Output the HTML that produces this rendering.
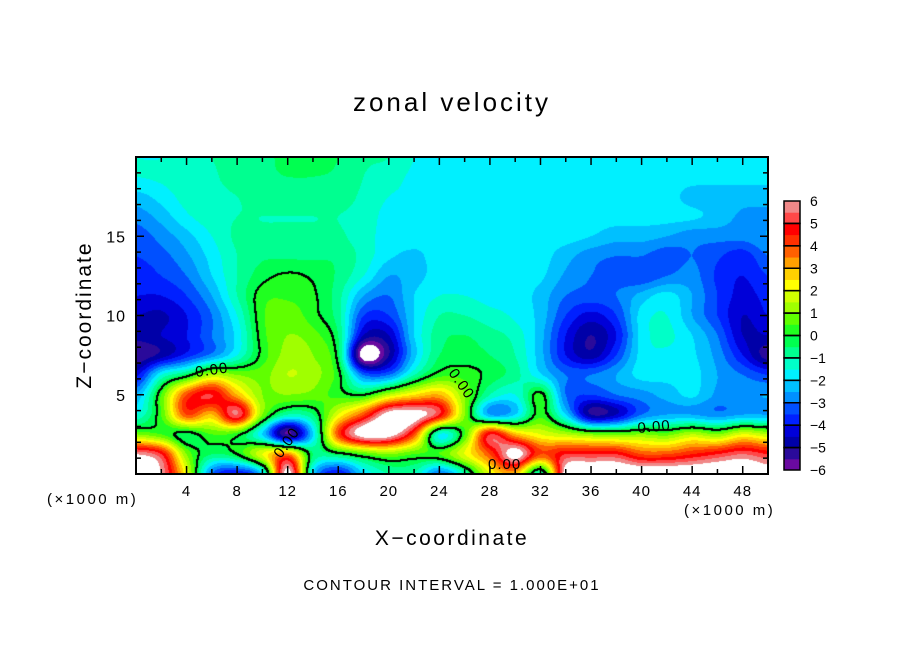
<!DOCTYPE html>
<html><head><meta charset="utf-8"><style>
body{margin:0;background:#fff;width:904px;height:654px;overflow:hidden;position:relative;font-family:"Liberation Sans",sans-serif}
.t{position:absolute;white-space:nowrap;color:#000}
</style></head><body>
<div class="t" style="left:0;width:904px;text-align:center;top:87px;font-size:26px;letter-spacing:3px">zonal velocity</div>
<div class="t" style="left:85px;top:315px;font-size:21px;letter-spacing:2px;transform:translate(-50%,-50%) rotate(-90deg)">Z−coordinate</div>
<div class="t" style="left:0;width:904px;text-align:center;top:527px;font-size:21px;letter-spacing:2.5px">X−coordinate</div>
<div class="t" style="left:47px;top:491px;font-size:15px;letter-spacing:2.5px">(×1000 m)</div>
<div class="t" style="left:684px;top:502px;font-size:15px;letter-spacing:2.5px">(×1000 m)</div>
<div class="t" style="left:0;width:904px;text-align:center;top:577px;font-size:15px;letter-spacing:2px">CONTOUR INTERVAL = 1.000E+01</div>
<canvas id="cv" width="632" height="317" style="position:absolute;left:136px;top:157px"></canvas>
<svg id="sv" width="904" height="654" style="position:absolute;left:0;top:0"></svg>
<script>
const xs=[0,2,4,6,8,10,12,14,16,18,20,22,24,26,28,30,32,34,36,38,40,42,44,46,48,50];
const zs=[20,18.75,17.5,16.25,15,13.75,12.5,11.25,10,8.75,7.5,6.25,5,3.75,2.5,1.25,0];
const field=[
[-1.5,-1.5,-1.3,-1,-0.8,-0.6,-0.4,-0.3,-0.5,-0.9,-1,-1.5,-1.8,-1.8,-1.8,-1.8,-1.8,-1.8,-1.8,-1.8,-1.8,-1.8,-1.8,-1.8,-1.7,-1.7],
[-1.5,-1.4,-1.2,-1.1,-0.7,-0.6,-0.5,-0.5,-0.6,-1,-1.3,-1.6,-1.8,-1.8,-1.8,-1.8,-1.8,-1.8,-1.8,-1.8,-1.8,-1.8,-1.8,-1.8,-1.8,-1.8],
[-2.2,-1.8,-1.3,-1.2,-1,-0.8,-0.8,-0.8,-0.8,-1.1,-1.5,-1.6,-1.8,-1.8,-1.8,-1.8,-1.8,-1.8,-1.8,-1.8,-1.8,-1.8,-2.2,-2.3,-2.3,-2.3],
[-2.8,-2.3,-1.6,-1.2,-1,-1,-1,-1,-1,-1.2,-1.7,-1.8,-1.8,-1.8,-1.8,-1.8,-1.8,-1.8,-1.8,-1.8,-1.8,-1.8,-1.9,-2.2,-2.6,-2.6],
[-3.3,-2.8,-2.2,-1.5,-0.9,-0.9,-0.9,-0.9,-0.9,-1.3,-1.7,-1.8,-1.8,-1.8,-1.8,-1.8,-1.8,-1.8,-2,-2.3,-2.3,-2.5,-2.8,-2.8,-2.8,-2.5],
[-3.5,-3.2,-2.6,-1.8,-1,-0.6,-0.6,-0.6,-0.6,-1.2,-1.9,-2.1,-1.8,-1.8,-1.8,-1.8,-1.8,-2.3,-2.8,-3,-3,-3.3,-3,-3.4,-3.8,-3],
[-3.8,-3.5,-3,-2,-1,-0.2,0.1,-0.1,-0.6,-1.5,-2.5,-2.2,-1.8,-1.8,-1.8,-1.8,-1.9,-2.6,-3,-3.2,-3.4,-3,-2.8,-3.6,-4,-3.5],
[-4,-4,-3.5,-2.5,-1,0.3,0.4,0.1,-0.8,-2.5,-3,-2,-1.5,-1.5,-1.7,-1.7,-2.2,-3,-3.2,-3,-2.3,-1.8,-2.5,-3.5,-4.2,-3.8],
[-4.5,-4.6,-4,-3,-1.5,0.4,0.8,0.2,-0.8,-3.5,-3.5,-2,-1,-1,-1.3,-1.6,-2.2,-3.5,-4.2,-3.5,-1.8,-1.5,-2.5,-3.5,-4.5,-4],
[-4.8,-4.5,-4,-3,-1.8,0.3,1,0.7,-0.5,-4.5,-4.5,-2,-0.7,-0.5,-0.8,-1.2,-2.3,-4,-5,-4,-1.8,-1.4,-2,-3,-4.5,-4.5],
[-5.5,-4.8,-3.8,-2.8,-1.5,0.2,1.2,1,-0.3,-6.5,-5,-2.2,-0.5,-0.3,-0.5,-1,-2.3,-4,-4.8,-3.5,-1.8,-1.6,-1.9,-2.7,-4,-5.3],
[-4.2,-1.5,-0.3,1.5,1,0.8,1.5,1.2,0.2,-3,-3,-1,0.3,0.3,-0.2,-0.8,-1.9,-3,-3,-2.5,-1.8,-1.8,-1.8,-2.5,-3,-3.5],
[-2.5,0.5,4,5,3,1,1,0.8,0.3,0,1.5,2.5,3,1,-1,-1.5,0.2,-3,-3.5,-3,-2.7,-2.3,-1.9,-2.6,-2.6,-2.5],
[-1.5,0.5,4,3,5.5,1,-1,-0.5,2,4,6.5,6.5,5,1,-2.5,-2,0.3,-2,-5,-4.5,-3,-2.5,-2.5,-2.8,-2.5,-2.5],
[1,0.5,-0.3,0.5,0.2,-2,-5.5,-2,4,6.5,6.5,4,-1.5,0.5,5,3,2,1.5,1,0.8,1,0.8,1.5,1,2,1.5],
[6,5,1,-0.5,0,2,3.5,-0.5,-0.3,0.5,1,0.5,0.5,2,4,6.5,4,5,5,5,4,4,4.5,5,5.5,5],
[7,6,2,-3,-4,-2,6.5,-2,-4,-2,-1,-1,-3,-1,2,3,-1,6.5,7,7,7,7,7,7,7,6.5]];
const cbLabels=[6,5,4,3,2,1,0,-1,-2,-3,-4,-5,-6];
const COLS=["#6a0aa0","#2a0a9a","#0000a8","#0000d8","#0020ff","#0050ff","#0090ff","#00c0ff","#00f0ff","#00ffc8","#00ff90","#00ff50","#20ff20","#60ff00","#a0ff00","#d0ff00","#ffff00","#ffd000","#ffa000","#ff6000","#ff3000","#ff0000","#ff4848","#f08888"];
const X0=136,X1=768,Y0=157,Y1=474;
const xp=x=>X0+(x-0)/50*(X1-X0), zp=z=>Y1-z/20*(Y1-Y0);
function hex(c){return [parseInt(c.substr(1,2),16),parseInt(c.substr(3,2),16),parseInt(c.substr(5,2),16)];}
const RGB=COLS.map(hex);
function colorOf(v){if(v>=6||v<-6)return [255,255,255];return RGB[Math.min(23,Math.floor((v+6)*2))];}
function cr(p0,p1,p2,p3,t){return 0.5*((2*p1)+(-p0+p2)*t+(2*p0-5*p1+4*p2-p3)*t*t+(-p0+3*p1-3*p2+p3)*t*t*t);}
const NI=xs.length,NJ=zs.length;
function g(j,i){i=Math.max(0,Math.min(NI-1,i));j=Math.max(0,Math.min(NJ-1,j));return field[j][i];}
function val(x,z){
  let fi=(x-xs[0])/(xs[1]-xs[0]);fi=Math.max(0,Math.min(NI-1.0001,fi));
  let fj=(zs[0]-z)/(zs[0]-zs[1]);fj=Math.max(0,Math.min(NJ-1.0001,fj));
  const i=Math.floor(fi),j=Math.floor(fj),a=fi-i,b=fj-j;
  const r=[];for(let d=-1;d<=2;d++)r.push(cr(g(j+d,i-1),g(j+d,i),g(j+d,i+1),g(j+d,i+2),a));
  return cr(r[0],r[1],r[2],r[3],b);
}
const cv=document.getElementById('cv'),ctx=cv.getContext('2d');
const W=cv.width,H=cv.height,img=ctx.createImageData(W,H);
const V=new Float32Array(W*H);
for(let py=0;py<H;py++)for(let px=0;px<W;px++){
  const x=(px+0.5)/W*50,z=20-(py+0.5)/H*20;V[py*W+px]=val(x,z);}
for(let k=0;k<W*H;k++){const c=colorOf(V[k]);img.data[k*4]=c[0];img.data[k*4+1]=c[1];img.data[k*4+2]=c[2];img.data[k*4+3]=255;}
for(let py=0;py<H-1;py++)for(let px=0;px<W-1;px++){
  const v=V[py*W+px];
  if((v>=0)!=(V[py*W+px+1]>=0)||(v>=0)!=(V[(py+1)*W+px]>=0)){
    for(const [dx,dy] of [[0,0],[1,0],[0,1],[1,1]]){const k=((py+dy)*W+px+dx)*4;img.data[k]=img.data[k+1]=img.data[k+2]=0;}
  }}
ctx.putImageData(img,0,0);
const NS="http://www.w3.org/2000/svg",sv=document.getElementById('sv');
function mk(t,at,p){const e=document.createElementNS(NS,t);for(const k in at)e.setAttribute(k,at[k]);(p||sv).appendChild(e);return e;}
let fr=mk('rect',{x:X0,y:Y0,width:X1-X0,height:Y1-Y0,fill:'none',stroke:'#000','stroke-width':2});


for(let x=2;x<50;x+=2){const L=x%4==0?8:5,X=xp(x);
  mk('line',{x1:X,y1:Y1,x2:X,y2:Y1-L,stroke:'#000','stroke-width':1.5});
  mk('line',{x1:X,y1:Y0,x2:X,y2:Y0+L,stroke:'#000','stroke-width':1.5});
  if(x%4==0){const t=mk('text',{x:X,y:496,'text-anchor':'middle','font-size':15,'font-family':'Liberation Sans','letter-spacing':1});t.textContent=x;
    
    }}
for(let z=1;z<20;z++){const L=z%5==0?8:5,Y=zp(z);
  mk('line',{x1:X0,y1:Y,x2:X0+L,y2:Y,stroke:'#000','stroke-width':1.5});
  mk('line',{x1:X1,y1:Y,x2:X1-L,y2:Y,stroke:'#000','stroke-width':1.5});
  if(z%5==0){const t=mk('text',{x:126,y:Y+6,'text-anchor':'end','font-size':16,'font-family':'Liberation Sans','letter-spacing':1});t.textContent=z;
    
    }}
const lab=[[196,377,-8],[448,373,55],[281,459,-55],[488,469,0],[638,433,-5]];
for(const l of lab){const t=mk('text',{x:l[0],y:l[1],'font-size':15,'font-family':'Liberation Sans','letter-spacing':1,transform:`rotate(${l[2]} ${l[0]} ${l[1]})`});t.textContent='0.00';
  
  }
const CB0=201,CB1=470,CBX=784,CBW=16,u=(CB1-CB0)/12;
const cbv=v=>CB1-(v+6)/12*(CB1-CB0);
for(let k=0;k<24;k++){const v=-6+k*0.5;
  const r=mk('rect',{x:CBX,y:cbv(v+0.5),width:CBW,height:u/2+0.5,fill:COLS[k]});
  
  }
for(let k=0;k<12;k++){mk('rect',{x:CBX,y:cbv(-5+k),width:CBW,height:u,fill:'none',stroke:'#000','stroke-width':1.5});}
cbLabels.forEach(v=>{const t=mk('text',{x:810,y:cbv(v)+5,'font-size':14,'font-family':'Liberation Sans'});t.textContent=v<0?'−'+(-v):v;
  
  });
</script>
</body></html>
